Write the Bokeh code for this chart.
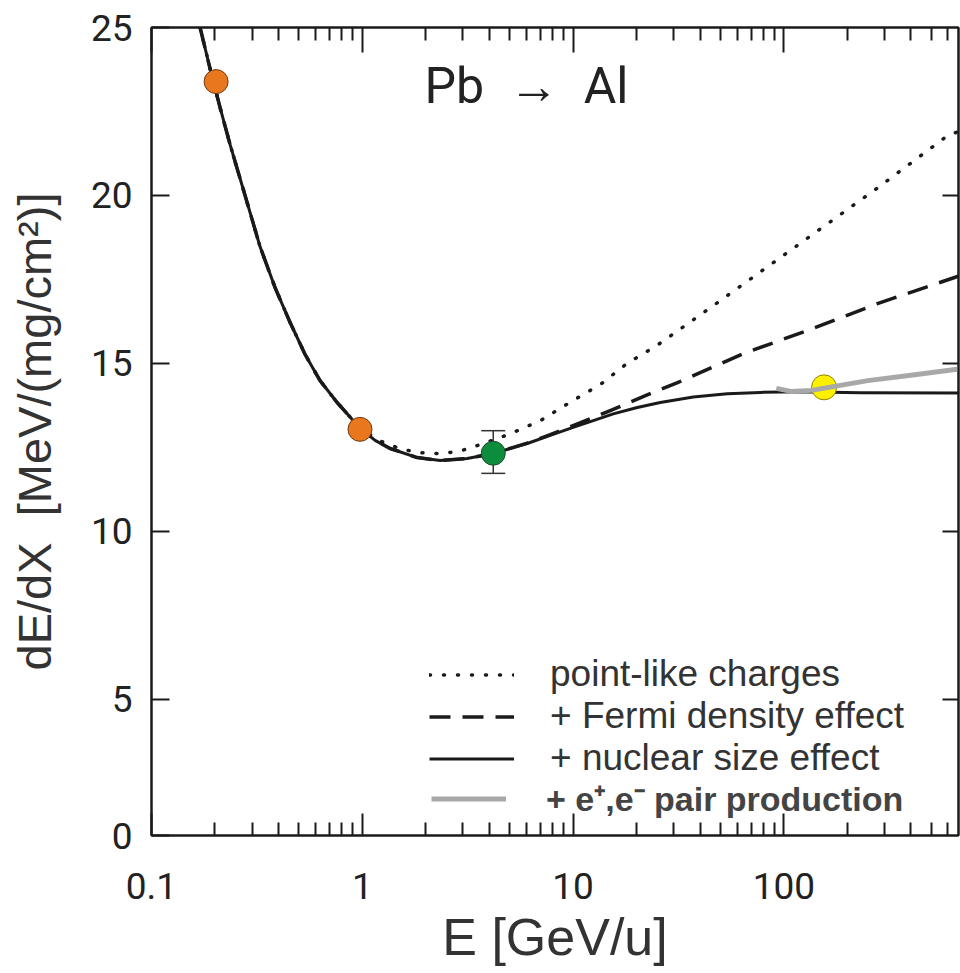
from bokeh.plotting import figure
from bokeh.models import (LogAxis, LinearAxis, FixedTicker, Legend, LegendItem, Label,
                          Whisker, ColumnDataSource, Range1d, CustomJSTickFormatter, TeeHead)
from bokeh.embed import file_html
from bokeh.resources import INLINE

# ---------------- data ----------------
# + nuclear size effect (solid)
E_NUC = [0.170, 0.1895, 0.2114, 0.2358, 0.2779, 0.3272, 0.3855, 0.4544, 0.5353, 0.6305,
         0.7594, 0.976, 1.15, 1.355, 1.82, 2.34, 3.144, 4.177, 6.056, 7.785, 10.0, 12.46,
         15.5, 20.15, 25.9, 37.15, 53.9, 77.3, 119.6, 230.5, 673]
DEDX_NUC = [25.00, 23.78, 22.62, 21.52, 20.00, 18.48, 17.26, 16.22, 15.27, 14.49,
            13.84, 13.07, 12.71, 12.47, 12.20, 12.11, 12.17, 12.32, 12.62, 12.86, 13.10, 13.30,
            13.50, 13.69, 13.84, 14.00, 14.10, 14.14, 14.16, 14.13, 14.12]

# point-like charges (dotted)
E_POINT = [0.170, 0.1895, 0.2114, 0.2358, 0.2779, 0.3272, 0.3855, 0.4544, 0.5353, 0.6305,
           0.7594, 0.976, 1.2, 1.5, 1.8, 2.1, 2.5, 3.0, 3.6, 5.0, 7.0, 9.7, 13.5, 18, 25,
           45, 112, 280, 600, 673]
DEDX_POINT = [25.00, 23.78, 22.62, 21.52, 20.00, 18.48, 17.26, 16.22, 15.27, 14.49,
              13.84, 13.07, 12.71, 12.47, 12.36, 12.32, 12.33, 12.42, 12.58, 12.90, 13.30,
              13.85, 14.38, 15.0, 15.54, 16.67, 18.45, 20.24, 21.79, 21.90]

# + Fermi density effect (dashed)
E_FERMI = [0.170, 0.1895, 0.2114, 0.2358, 0.2779, 0.3272, 0.3855, 0.4544, 0.5353, 0.6305,
           0.7594, 0.976, 1.15, 1.355, 1.82, 2.34, 3.144, 4.177, 6.056, 7.785, 10.0, 15.0,
           24.0, 31.3, 64.5, 134.5, 280, 645, 673]
DEDX_FERMI = [25.00, 23.78, 22.62, 21.52, 20.00, 18.48, 17.26, 16.22, 15.27, 14.49,
              13.84, 13.07, 12.71, 12.47, 12.20, 12.11, 12.17, 12.32, 12.63, 12.88, 13.15,
              13.60, 14.14, 14.43, 15.30, 16.02, 16.79, 17.56, 17.60]

# + e+,e- pair production (grey)
E_PAIR = [92, 108, 135, 250, 400, 700]
DEDX_PAIR = [14.26, 14.17, 14.20, 14.49, 14.65, 14.85]

# measured points
E_ORANGE = [0.2025, 0.975]
DEDX_ORANGE = [23.39, 13.04]
E_GREEN = [4.18]
DEDX_GREEN = [12.33]
GREEN_LOW = [11.73]
GREEN_HIGH = [13.0]
E_YELLOW = [155]
DEDX_YELLOW = [14.29]

X_MAJOR = [0.1, 1, 10, 100]
X_MINOR = [m * 10.0 ** k for k in range(-1, 3) for m in range(2, 10)]
Y_TICKS = [0.952, 5, 10, 15, 20, 25]

TICK_FONT = "Roboto"
TEXT_FONT = "Liberation Sans"
INK = "#1a1a1a"

# ---------------- figure ----------------
p = figure(width=960, height=973, x_axis_type="log",
           x_range=Range1d(0.1, 673), y_range=Range1d(0.952, 25),
           output_backend="svg", toolbar_location=None,
           min_border_left=151, min_border_right=2, min_border_top=27, min_border_bottom=138)
p.xgrid.visible = False
p.ygrid.visible = False
p.outline_line_color = INK
p.outline_line_width = 2
p.background_fill_color = "white"
p.border_fill_color = "white"

# bottom axis
xa = p.xaxis[0]
xa.ticker = FixedTicker(ticks=X_MAJOR, minor_ticks=X_MINOR)
xa.formatter = CustomJSTickFormatter(code="return tick >= 1 ? tick.toFixed(0) : tick.toFixed(1);")
xa.axis_line_color = INK
xa.axis_line_width = 2
xa.major_tick_in = 22
xa.major_tick_out = 0
xa.minor_tick_in = 13
xa.minor_tick_out = 0
xa.major_tick_line_color = INK
xa.minor_tick_line_color = INK
xa.major_tick_line_width = 2
xa.minor_tick_line_width = 2
xa.major_label_text_font = TICK_FONT
xa.major_label_text_font_size = "37px"
xa.major_label_text_color = "#222222"
xa.major_label_standoff = 37
xa.axis_label = "E [GeV/u]"
xa.axis_label_text_font = TEXT_FONT
xa.axis_label_text_font_size = "52px"
xa.axis_label_text_font_style = "normal"
xa.axis_label_text_color = "#333333"
xa.axis_label_standoff = 6

# left axis
ya = p.yaxis[0]
ya.ticker = FixedTicker(ticks=Y_TICKS)
ya.formatter = CustomJSTickFormatter(code="return tick < 1 ? '0' : tick.toFixed(0);")
ya.axis_line_color = INK
ya.axis_line_width = 2
ya.major_tick_in = 18
ya.major_tick_out = 0
ya.minor_tick_in = 0
ya.minor_tick_out = 0
ya.major_tick_line_color = INK
ya.major_tick_line_width = 2
ya.major_label_text_font = TICK_FONT
ya.major_label_text_font_size = "37px"
ya.major_label_text_color = "#222222"
ya.major_label_standoff = 19
ya.axis_label = "dE/dX\u00a0\u00a0[MeV/(mg/cm²)]"
ya.axis_label_text_font = TEXT_FONT
ya.axis_label_text_font_size = "47px"
ya.axis_label_text_font_style = "normal"
ya.axis_label_text_color = "#333333"
ya.axis_label_standoff = 27

blank = CustomJSTickFormatter(code="return '';")

# top axis (ticks only)
ta = LogAxis(ticker=FixedTicker(ticks=X_MAJOR, minor_ticks=X_MINOR), formatter=blank,
             axis_line_color=INK, axis_line_width=2,
             major_tick_in=25, major_tick_out=0, minor_tick_in=13, minor_tick_out=0,
             major_tick_line_color=INK, minor_tick_line_color=INK,
             major_tick_line_width=2, minor_tick_line_width=2,
             major_label_text_font_size="8px", major_label_standoff=0)
p.add_layout(ta, "above")

# right axis (ticks only)
ra = LinearAxis(ticker=FixedTicker(ticks=[5, 10, 15, 20]),
                formatter=CustomJSTickFormatter(code="return '';"),
                axis_line_color=INK, axis_line_width=2,
                major_tick_in=16, major_tick_out=0, minor_tick_in=0, minor_tick_out=0,
                major_tick_line_color=INK, major_tick_line_width=2,
                major_label_text_font_size="8px", major_label_standoff=0)
p.add_layout(ra, "right")

# ---------------- curves ----------------
dotted = p.line(E_POINT, DEDX_POINT, line_color=INK, line_width=3.5,
                line_dash="1 13", line_cap="round", line_join="round")
dashed = p.line(E_FERMI, DEDX_FERMI, line_color=INK, line_width=3.5, line_dash="21 12",
                line_join="round")
solid = p.line(E_NUC, DEDX_NUC, line_color=INK, line_width=3, line_join="round")

# error bar of the green point
wsrc = ColumnDataSource(dict(x=E_GREEN, lower=GREEN_LOW, upper=GREEN_HIGH))
wh = Whisker(base="x", lower="lower", upper="upper", source=wsrc,
             line_color="#333333", line_width=1.5,
             upper_head=TeeHead(size=24, line_color="#333333", line_width=1.5),
             lower_head=TeeHead(size=24, line_color="#333333", line_width=1.5))
p.add_layout(wh)

p.scatter(E_ORANGE, DEDX_ORANGE, size=24, fill_color="#E8771E", line_color="#6e3a10", line_width=1)
p.scatter(E_GREEN, DEDX_GREEN, size=24, fill_color="#0C8C3C", line_color="#1d4a2b", line_width=1)
p.scatter(E_YELLOW, DEDX_YELLOW, size=25, fill_color="#FFF000", line_color="#8c8400", line_width=1)

grey = p.line(E_PAIR, DEDX_PAIR, line_color="#a8a8a8", line_width=5, line_join="round")

# ---------------- legends ----------------
leg1 = Legend(items=[LegendItem(label="point-like charges", renderers=[dotted]),
                     LegendItem(label="+ Fermi density effect", renderers=[dashed]),
                     LegendItem(label="+ nuclear size effect", renderers=[solid])],
              location=(278, 56), orientation="vertical",
              glyph_width=85, glyph_height=41, label_height=41, spacing=0,
              padding=0, margin=0, label_standoff=36,
              label_text_font=TEXT_FONT, label_text_font_size="37px",
              label_text_color="#333333",
              border_line_color=None, background_fill_alpha=0)
p.add_layout(leg1)

leg2 = Legend(items=[LegendItem(label="+ e⁺,e⁻ pair production", renderers=[grey])],
              location=(280, 14), orientation="vertical",
              glyph_width=75, glyph_height=41, label_height=41, spacing=0,
              padding=0, margin=0, label_standoff=40,
              label_text_font=TEXT_FONT, label_text_font_size="34px",
              label_text_font_style="bold", label_text_color="#444444",
              border_line_color=None, background_fill_alpha=0)
p.add_layout(leg2)

# ---------------- title inside plot ----------------
title = Label(x=273, y=750, x_units="screen", y_units="screen",
              text="Pb\u00a0\u00a0→\u00a0\u00a0Al",
              text_font=TICK_FONT, text_font_size="50px", text_color="#222222",
              text_baseline="middle")
p.add_layout(title)

open("out.html", "w").write(file_html(p, INLINE))
